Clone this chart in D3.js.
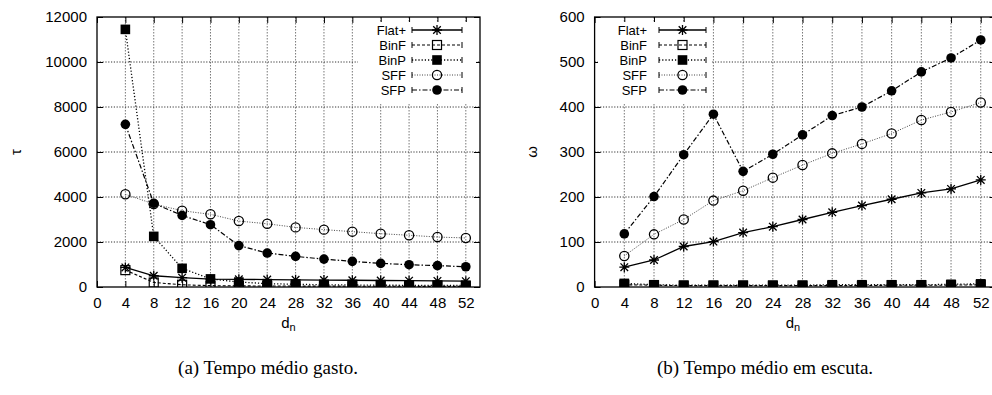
<!DOCTYPE html>
<html>
<head>
<meta charset="utf-8">
<script src="https://cdn.jsdelivr.net/npm/d3@7"></script>
<style>
  html, body { margin: 0; padding: 0; background: #fff; }
  svg { display: block; }
  .tick-label { font-family: "Liberation Sans", Arial, sans-serif; font-size: 15px; fill: #000; }
  .legend-label { font-family: "Liberation Sans", Arial, sans-serif; font-size: 13px; fill: #000; }
  .caption { font-family: "Liberation Serif", "DejaVu Serif", serif; font-size: 19px; fill: #000; }
</style>
</head>
<body>
<svg id="chart" width="992" height="395"></svg>
<script>
// Number of nodes d_n on the horizontal axis
const dn = [4, 8, 12, 16, 20, 24, 28, 32, 36, 40, 44, 48, 52];
const xTicks = [0, 4, 8, 12, 16, 20, 24, 28, 32, 36, 40, 44, 48, 52];
const seriesNames = ["Flat+", "BinF", "BinP", "SFF", "SFP"];

// (a) average time spent, tau
const tauFlat = [870, 500, 415, 350, 340, 330, 320, 310, 300, 290, 280, 270, 260];
const tauBinF = [750, 200, 100, 60, 50, 45, 40, 40, 35, 35, 30, 30, 30];
const tauBinP = [11450, 2250, 830, 360, 220, 150, 120, 100, 90, 80, 75, 70, 65];
const tauSFF = [4120, 3690, 3390, 3230, 2930, 2810, 2650, 2550, 2460, 2370, 2300, 2220, 2180];
const tauSFP = [7230, 3720, 3180, 2770, 1840, 1510, 1360, 1240, 1140, 1050, 990, 950, 900];
const tauTicks = [0, 2000, 4000, 6000, 8000, 10000, 12000];

// (b) average listening time, omega
const omegaFlat = [44, 60, 90, 101, 121, 134, 150, 166, 181, 195, 209, 218, 238];
const omegaBinF = [5, 4, 3, 3, 3, 3, 3, 3, 3, 4, 4, 4, 5];
const omegaBinP = [8, 5, 4, 4, 4, 4, 4, 5, 5, 5, 5, 6, 7];
const omegaSFF = [69, 117, 150, 192, 214, 243, 271, 297, 318, 341, 371, 389, 410];
const omegaSFP = [118, 201, 294, 384, 257, 295, 338, 381, 400, 436, 478, 509, 549];
const omegaTicks = [0, 100, 200, 300, 400, 500, 600];

// line and marker style per series
const styles = {
  "Flat+": { dash: null, width: 1.3, color: "#000", marker: "star" },
  "BinF":  { dash: "3,2", width: 1.1, color: "#000", marker: "squareOpen" },
  "BinP":  { dash: "1.2,2", width: 1.3, color: "#000", marker: "squareFilled" },
  "SFF":   { dash: "1,1.5", width: 1, color: "#444", marker: "circleOpen" },
  "SFP":   { dash: "5,2,1.5,2", width: 1.2, color: "#000", marker: "circleFilled" }
};

const svg = d3.select("#chart");

function drawMarker(g, type, x, y) {
  if (type === "star") {
    g.append("path")
      .attr("d", `M${x-5},${y}H${x+5}M${x},${y-5}V${y+5}M${x-3.8},${y-3.8}L${x+3.8},${y+3.8}M${x-3.8},${y+3.8}L${x+3.8},${y-3.8}`)
      .attr("stroke", "#000").attr("stroke-width", 1.3).attr("fill", "none");
  } else if (type === "squareOpen") {
    g.append("rect").attr("x", x-4.5).attr("y", y-4.5).attr("width", 9).attr("height", 9)
      .attr("fill", "none").attr("stroke", "#000").attr("stroke-width", 1.2);
  } else if (type === "squareFilled") {
    g.append("rect").attr("x", x-4.8).attr("y", y-4.8).attr("width", 9.6).attr("height", 9.6)
      .attr("fill", "#000");
  } else if (type === "circleOpen") {
    g.append("circle").attr("cx", x).attr("cy", y).attr("r", 4.6)
      .attr("fill", "none").attr("stroke", "#000").attr("stroke-width", 1.3);
  } else if (type === "circleFilled") {
    g.append("circle").attr("cx", x).attr("cy", y).attr("r", 4.8).attr("fill", "#000");
  }
}

function drawPanel(opts) {
  const { left, right, top, bottom, yMax, yTicks, series, yLabel, legend, clipId, xLabelX } = opts;
  const x = d3.scaleLinear().domain([0, 54]).range([left, right]);
  const y = d3.scaleLinear().domain([0, yMax]).range([bottom, top]);
  const g = svg.append("g");

  g.append("clipPath").attr("id", clipId)
    .append("rect").attr("x", left).attr("y", top).attr("width", right - left).attr("height", bottom - top);

  // grid
  const grid = g.append("g");
  grid.selectAll("line.vg").data(xTicks.filter(t => t > 0)).enter().append("line")
    .attr("x1", d => x(d)).attr("x2", d => x(d)).attr("y1", top).attr("y2", bottom)
    .attr("stroke", "#777").attr("stroke-width", 1).attr("stroke-dasharray", "1.5,1.5");
  grid.selectAll("line.hg").data(yTicks.filter(t => t > 0 && t < yMax)).enter().append("line")
    .attr("x1", left).attr("x2", right).attr("y1", d => y(d)).attr("y2", d => y(d))
    .attr("stroke", "#333").attr("stroke-width", 1).attr("stroke-dasharray", "1.2,1.6");

  // axes via d3 axis generators, labels outside, ticks inward on all four sides
  const axB = g.append("g").attr("transform", `translate(0,${bottom})`)
    .call(d3.axisBottom(x).tickValues(xTicks).tickSize(-6).tickPadding(10).tickFormat(d3.format("d")));
  const axT = g.append("g").attr("transform", `translate(0,${top})`)
    .call(d3.axisTop(x).tickValues(xTicks).tickSize(-6).tickFormat(""));
  const axL = g.append("g").attr("transform", `translate(${left},0)`)
    .call(d3.axisLeft(y).tickValues(yTicks).tickSize(-6).tickPadding(10).tickFormat(d3.format("d")));
  const axR = g.append("g").attr("transform", `translate(${right},0)`)
    .call(d3.axisRight(y).tickValues(yTicks).tickSize(-6).tickFormat(""));
  [axB, axT, axL, axR].forEach(a => {
    a.select(".domain").remove();
    a.selectAll(".tick line").attr("stroke", "#000").attr("stroke-width", 1);
    a.selectAll("text").attr("class", "tick-label").attr("font-family", null).attr("font-size", null);
  });
  axB.selectAll("text").attr("dy", "0.71em");

  // data lines
  const plot = g.append("g").attr("clip-path", `url(#${clipId})`);
  series.forEach(s => {
    const st = styles[s.name];
    const line = d3.line().x((d, i) => x(dn[i])).y(d => y(d));
    plot.append("path").datum(s.values).attr("d", line)
      .attr("fill", "none").attr("stroke", st.color).attr("stroke-width", st.width)
      .attr("stroke-dasharray", st.dash);
  });
  series.forEach(s => {
    const st = styles[s.name];
    const mg = plot.append("g");
    s.values.forEach((v, i) => drawMarker(mg, st.marker, x(dn[i]), y(v)));
  });

  // legend on an opaque box
  const lg = g.append("g");
  lg.append("rect").attr("x", legend.boxX).attr("y", top + 5).attr("width", legend.boxW).attr("height", 82)
    .attr("fill", "#fff");
  seriesNames.forEach((name, i) => {
    const st = styles[name];
    const ly = legend.y0 + i * 15;
    lg.append("text").attr("class", "legend-label").attr("x", legend.textX).attr("y", ly)
      .attr("dy", "0.35em").attr("text-anchor", "end").text(name);
    lg.append("line").attr("x1", legend.x1).attr("x2", legend.x2).attr("y1", ly).attr("y2", ly)
      .attr("stroke", st.color).attr("stroke-width", st.width).attr("stroke-dasharray", st.dash);
    [legend.x1, legend.x2].forEach(cx => lg.append("line")
      .attr("x1", cx).attr("x2", cx).attr("y1", ly - 3).attr("y2", ly + 3)
      .attr("stroke", "#000").attr("stroke-width", 1));
    drawMarker(lg, st.marker, (legend.x1 + legend.x2) / 2, ly);
  });

  // frame
  g.append("rect").attr("x", left).attr("y", top).attr("width", right - left).attr("height", bottom - top)
    .attr("fill", "none").attr("stroke", "#000").attr("stroke-width", 1.3);

  // axis titles
  g.append("text").attr("class", "tick-label")
    .attr("transform", `translate(${yLabel.x},${(top + bottom) / 2}) rotate(-90)`)
    .attr("text-anchor", "middle").attr("dy", "0.35em").text(yLabel.text);
  const xl = g.append("text").attr("class", "tick-label").attr("x", xLabelX).attr("y", 328)
    .attr("text-anchor", "middle");
  xl.append("tspan").text("d");
  xl.append("tspan").attr("dy", 3).attr("font-size", "11px").text("n");
}

drawPanel({
  left: 97, right: 480, top: 17, bottom: 287, yMax: 12000, yTicks: tauTicks,
  series: [
    { name: "Flat+", values: tauFlat }, { name: "BinF", values: tauBinF },
    { name: "BinP", values: tauBinP }, { name: "SFF", values: tauSFF }, { name: "SFP", values: tauSFP }
  ],
  yLabel: { x: 16, text: "τ" },
  legend: { boxX: 358, boxW: 118, y0: 30, textX: 406, x1: 412, x2: 462 },
  clipId: "clipA", xLabelX: 288.5
});

drawPanel({
  left: 594.6, right: 995.6, top: 17, bottom: 287, yMax: 600, yTicks: omegaTicks,
  series: [
    { name: "Flat+", values: omegaFlat }, { name: "BinF", values: omegaBinF },
    { name: "BinP", values: omegaBinP }, { name: "SFF", values: omegaSFF }, { name: "SFP", values: omegaSFP }
  ],
  yLabel: { x: 532, text: "ω" },
  legend: { boxX: 598, boxW: 114, y0: 30, textX: 647, x1: 659, x2: 706 },
  clipId: "clipB", xLabelX: 793
});

// sub-figure captions
svg.append("text").attr("class", "caption").attr("x", 268).attr("y", 374)
  .attr("text-anchor", "middle").text("(a)  Tempo médio gasto.");
svg.append("text").attr("class", "caption").attr("x", 765).attr("y", 374)
  .attr("text-anchor", "middle").text("(b)  Tempo médio em escuta.");
</script>
</body>
</html>
